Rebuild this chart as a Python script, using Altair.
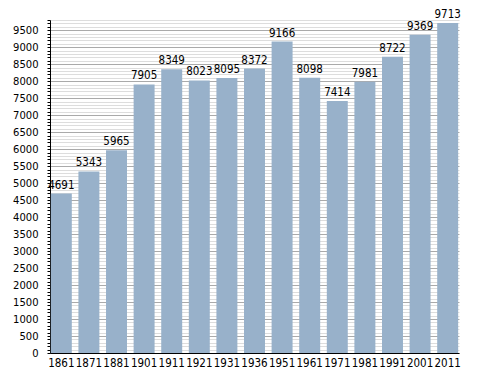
import altair as alt
import pandas as pd

years = ["1861", "1871", "1881", "1901", "1911", "1921", "1931", "1936", "1951",
         "1961", "1971", "1981", "1991", "2001", "2011"]
population = [4691, 5343, 5965, 7905, 8349, 8023, 8095, 8372, 9166,
              8098, 7414, 7981, 8722, 9369, 9713]

df = pd.DataFrame({"year": years, "pop": population})

cfont = "DejaVu Sans Condensed"
font = "DejaVu Sans"

x = alt.X("year:N", sort=years, title=None,
          scale=alt.Scale(paddingInner=0.24, paddingOuter=0.03),
          axis=alt.Axis(labelAngle=0, labelFont=cfont, labelFontSize=11.5, labelColor="black",
                        domainColor="black", ticks=False, labelPadding=4))
y = alt.Y("pop:Q", title=None,
          scale=alt.Scale(domain=[0, 9800], nice=False),
          axis=alt.Axis(values=list(range(0, 9801, 100)),
                        labelExpr="datum.value % 500 === 0 ? datum.value : ''",
                        labelFont=font, labelFontSize=10, labelColor="black",
                        domainColor="black", tickColor="black", tickSize=3,
                        gridColor={"condition": {"test": "datum.value % 500 === 0", "value": "#aaaaaa"},
                                   "value": "#dddddd"},
                        labelPadding=9))

bars = alt.Chart(df).mark_bar(color="#98b1ca").encode(x=x, y=y)
labels = alt.Chart(df).mark_text(baseline="bottom", dy=-3, font=cfont, fontSize=11.5,
                                 color="black").encode(x=x, y=y, text="pop:Q")

chart = (bars + labels).properties(
    width=409, height=333,
    autosize=alt.AutoSizeParams(type="none"),
    padding={"left": 42, "top": 12, "right": 20, "bottom": 20},
).configure_view(stroke=None).configure_axis(grid=True)
chart = chart.configure_axisX(grid=False)

chart.save("out.html", embed_options={"renderer": "svg", "actions": False})
